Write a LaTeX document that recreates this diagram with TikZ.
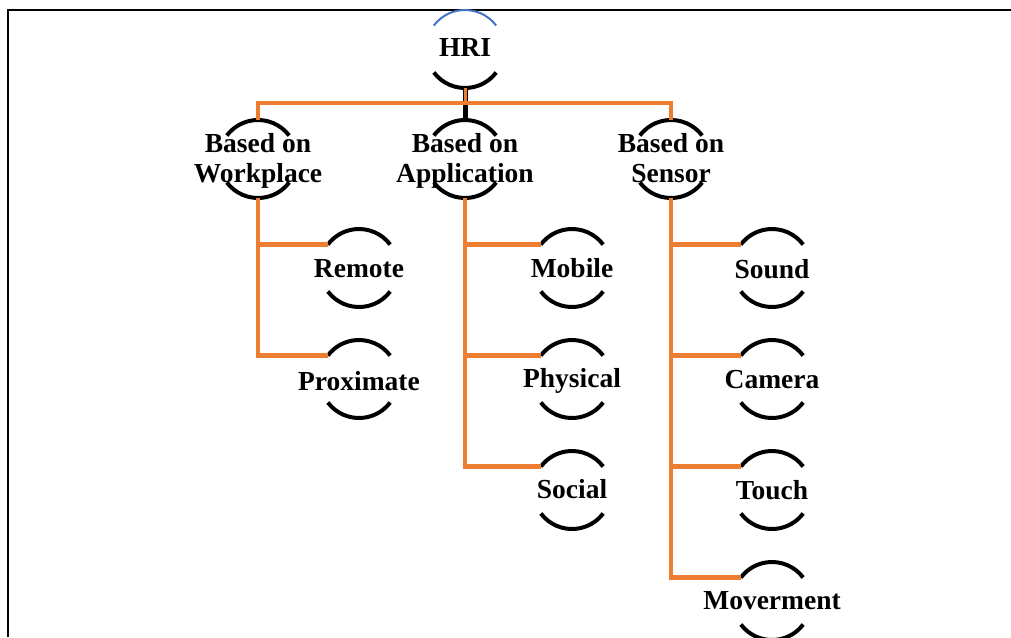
\documentclass[tikz,border=0pt]{standalone}
\usepackage{fontspec}
\setmainfont{Liberation Serif}
\definecolor{orng}{HTML}{ED7D31}
\definecolor{blu}{HTML}{4472C4}
\begin{document}
\begin{tikzpicture}[x=1pt,y=1pt,
  ring/.style={circle,minimum size=78pt,inner sep=0pt,outer sep=0pt,draw=none},
  lbl/.style={inner sep=0pt,align=center,font=\bfseries\fontsize{27.5}{30}\selectfont},
  arcline/.style={line width=4pt,black},
  conn/.style={line width=4.5pt,orng},
  frame/.style={line width=2pt,black}]
\useasboundingbox (0,0) rectangle (1011,-637);
% frame
\coordinate (fbl) at (7.7,-637);
\coordinate (ftl) at (7.7,-10);
\coordinate (ftr) at (1011,-10);
\draw[frame] (fbl) -- (ftl) -- (ftr);
% nodes
\node[ring] (hri) at (465,-49) {};
\node[ring] (work) at (258,-159) {};
\node[ring] (app) at (465,-159) {};
\node[ring] (sens) at (671,-159) {};
\node[ring] (remote) at (359,-268) {};
\node[ring] (prox) at (359,-379) {};
\node[ring] (mobile) at (572,-268) {};
\node[ring] (phys) at (572,-379) {};
\node[ring] (social) at (572,-490) {};
\node[ring] (sound) at (772,-268) {};
\node[ring] (camera) at (772,-379) {};
\node[ring] (touch) at (772,-490) {};
\node[ring] (move) at (772,-601) {};
% arcs
\draw[line width=2pt,blu] (hri.37) arc[start angle=37,end angle=143,radius=39pt];
\draw[arcline] (hri.217) arc[start angle=217,end angle=323,radius=39pt];
\foreach \n in {work,app,sens,remote,prox,mobile,phys,social,sound,camera,touch,move}{
  \draw[arcline] (\n.37) arc[start angle=37,end angle=143,radius=39pt];
  \draw[arcline] (\n.217) arc[start angle=217,end angle=323,radius=39pt];
}
% connectors
\coordinate (bus) at (465,-103);
\draw[line width=5pt,black] (hri.south) -- (app.north);
\draw[line width=3pt,orng] (hri.south) -- (bus);
\draw[conn] (work.north) |- (bus) -| (sens.north);
\draw[conn] (work.south) |- (remote.143);
\draw[conn] (work.south) |- (prox.143);
\draw[conn] (app.south) |- (mobile.143);
\draw[conn] (app.south) |- (phys.143);
\draw[conn] (app.south) |- (social.143);
\draw[conn] (sens.south) |- (sound.143);
\draw[conn] (sens.south) |- (camera.143);
\draw[conn] (sens.south) |- (touch.143);
\draw[conn] (sens.south) |- (move.143);
% labels
\node[lbl] (hri-t) at (465,-47) {HRI};
\node[lbl] (work-t) at (258,-161) {Based on\\Workplace};
\node[lbl] (app-t) at (465,-161) {Based on\\Application};
\node[lbl] (sens-t) at (671,-158) {Based on\\Sensor};
\node[lbl] (remote-t) at (359,-269) {Remote};
\node[lbl] (prox-t) at (359,-381) {Proximate};
\node[lbl] (mobile-t) at (572,-268) {Mobile};
\node[lbl] (phys-t) at (572,-381) {Physical};
\node[lbl] (social-t) at (572,-489) {Social};
\node[lbl] (sound-t) at (772,-269) {Sound};
\node[lbl] (camera-t) at (772,-380) {Camera};
\node[lbl] (touch-t) at (772,-490) {Touch};
\node[lbl] (move-t) at (772,-601) {Moverment};
\end{tikzpicture}
\end{document}
